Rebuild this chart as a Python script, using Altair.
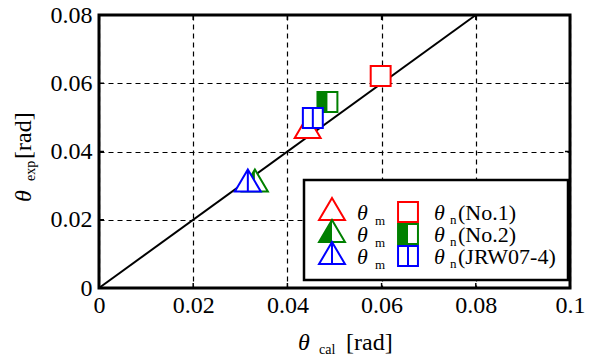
import altair as alt
import pandas as pd

# ---------------- data ----------------
series = ["No.1", "No.2", "JRW07-4"]
colors = ["#ff0000", "#008000", "#0000ff"]
styles = ["open", "half", "mid"]
theta_m_cal = [0.0443, 0.0331, 0.0316]
theta_m_exp = [0.0472, 0.0315, 0.0315]
theta_n_cal = [0.0598, 0.0485, 0.0454]
theta_n_exp = [0.0621, 0.0545, 0.0498]
diag_vals = [0.0, 0.08]
x_ticks = [0, 0.02, 0.04, 0.06, 0.08, 0.1]
y_ticks = [0, 0.02, 0.04, 0.06, 0.08]
legend_labels = ["(No.1)", "(No.2)", "(JRW07-4)"]

# ---------------- layout ----------------
W, H = 471, 273
FONT = "Liberation Serif"
SIZE = 576  # symbol size (r = 12 px)
TRI = "M0,-0.92L1.08,0.92L-1.08,0.92Z"
TRI_HALF = "M0,-0.92L0,0.92L-1.08,0.92Z"
SQ = "M-0.83,-0.83L0.83,-0.83L0.83,0.83L-0.83,0.83Z"
SQ_HALF = "M-0.83,-0.83L0,-0.83L0,0.83L-0.83,0.83Z"
TRI_MID = TRI + "M0,-0.92L0,0.92"
SQ_MID = SQ + "M0,-0.83L0,0.83"

xs = alt.Scale(domain=[0, 0.1], nice=False, zero=False)
ys = alt.Scale(domain=[0, 0.08], nice=False, zero=False)
label_expr = "datum.value == 0 ? '0' : format(datum.value, '.2~f')"
x_axis = alt.Axis(values=x_ticks, title=None, domain=False, ticks=False, grid=True,
                  gridDash=[5, 4], gridColor="black", gridWidth=1.2, gridOpacity=1,
                  labelFont=FONT, labelFontSize=24, labelColor="black", labelPadding=5,
                  labelExpr=label_expr, labelFlush=False, labelOverlap=False)
y_axis = alt.Axis(values=y_ticks, title=None, domain=False, ticks=False, grid=True,
                  gridDash=[5, 4], gridColor="black", gridWidth=1.2, gridOpacity=1,
                  labelFont=FONT, labelFontSize=24, labelColor="black", labelPadding=7,
                  labelExpr=label_expr, labelFlush=False, labelOverlap=False)

X = alt.X("x:Q", scale=xs, axis=x_axis)
Y = alt.Y("y:Q", scale=ys, axis=y_axis)

one = pd.DataFrame({"a": [0]})

layers = []

# diagonal
diag = alt.Chart(pd.DataFrame({"x": diag_vals, "y": diag_vals})).mark_line(
    color="black", strokeWidth=2).encode(x=X, y=Y)
layers.append(diag)

# inward ticks
xt = pd.DataFrame({"x": x_ticks[1:-1]})
yt = pd.DataFrame({"y": y_ticks[1:-1]})
tick_len = 5
layers.append(alt.Chart(xt).mark_rule(color="black", strokeWidth=1.5).encode(
    x=X, y=alt.value(H), y2=alt.value(H - tick_len)))
layers.append(alt.Chart(xt).mark_rule(color="black", strokeWidth=1.5).encode(
    x=X, y=alt.value(0), y2=alt.value(tick_len)))
layers.append(alt.Chart(yt).mark_rule(color="black", strokeWidth=1.5).encode(
    y=Y, x=alt.value(0), x2=alt.value(tick_len)))
layers.append(alt.Chart(yt).mark_rule(color="black", strokeWidth=1.5).encode(
    y=Y, x=alt.value(W), x2=alt.value(W - tick_len)))


def symbol_layers(df_or_none, outline, half, color, xenc, yenc):
    out = []
    src = df_or_none if df_or_none is not None else one
    out.append(alt.Chart(src).mark_point(
        shape=outline, size=SIZE, filled=True, fill="white", stroke=color,
        strokeWidth=2, opacity=1, fillOpacity=1).encode(x=xenc, y=yenc))
    if half is not None:
        out.append(alt.Chart(src).mark_point(
            shape=half, size=SIZE, filled=True, fill=color, strokeWidth=0,
            opacity=1, fillOpacity=1).encode(x=xenc, y=yenc))
    return out


def shapes_for(style):
    if style == "open":
        return (TRI, None), (SQ, None)
    if style == "half":
        return (TRI, TRI_HALF), (SQ, SQ_HALF)
    return (TRI_MID, None), (SQ_MID, None)


# data markers
for i in range(len(series)):
    (to, th), (so, sh) = shapes_for(styles[i])
    dm = pd.DataFrame({"x": [theta_m_cal[i]], "y": [theta_m_exp[i]]})
    dn = pd.DataFrame({"x": [theta_n_cal[i]], "y": [theta_n_exp[i]]})
    layers += symbol_layers(dm, to, th, colors[i], X, Y)
    layers += symbol_layers(dn, so, sh, colors[i], X, Y)


def txt(t, x, y, size, italic=False, angle=0):
    kw = dict(text=t, font=FONT, fontSize=size, align="left", baseline="alphabetic", color="black")
    if italic:
        kw["fontStyle"] = "italic"
    if angle:
        kw["angle"] = angle
    return alt.Chart(one).mark_text(**kw).encode(x=alt.value(x), y=alt.value(y))


# legend box
LX0, LX1, LY0, LY1 = 205, 469, 165, 265
layers.append(alt.Chart(one).mark_rect(fill="white", stroke="black", strokeWidth=2.5).encode(
    x=alt.value(LX0), x2=alt.value(LX1), y=alt.value(LY0), y2=alt.value(LY1)))

ROW0, DY = 205, 22
for i in range(len(series)):
    (to, th), (so, sh) = shapes_for(styles[i])
    base = ROW0 + i * DY
    layers += symbol_layers(None, to, th, colors[i], alt.value(233), alt.value(base - 11))
    layers += symbol_layers(None, so, sh, colors[i], alt.value(309), alt.value(base - 8))
    layers.append(txt("θ", 258, base, 22, italic=True))
    layers.append(txt("m", 276, base + 5, 13))
    layers.append(txt("θ", 335, base, 22, italic=True))
    layers.append(txt("n", 351, base + 4, 13))
    layers.append(txt(legend_labels[i], 359, base, 22))

# x title
layers.append(txt("θ", 199, 335, 24, italic=True))
layers.append(txt("cal", 220, 339, 14))
layers.append(txt("[rad]", 247, 335, 24))
# y title
layers.append(txt("θ", -68, 187, 24, italic=True, angle=270))
layers.append(txt("exp", -64, 166, 14, angle=270))
layers.append(txt("[rad]", -68, 144, 24, angle=270))

chart = alt.layer(*layers).properties(
    width=W, height=H,
    background="white",
    autosize=alt.AutoSizeParams(type="none"),
    padding={"left": 99, "top": 15, "right": 27, "bottom": 66},
).configure_view(stroke="black", strokeWidth=3)

chart.save("out.html", embed_options={"renderer": "svg", "actions": False})
